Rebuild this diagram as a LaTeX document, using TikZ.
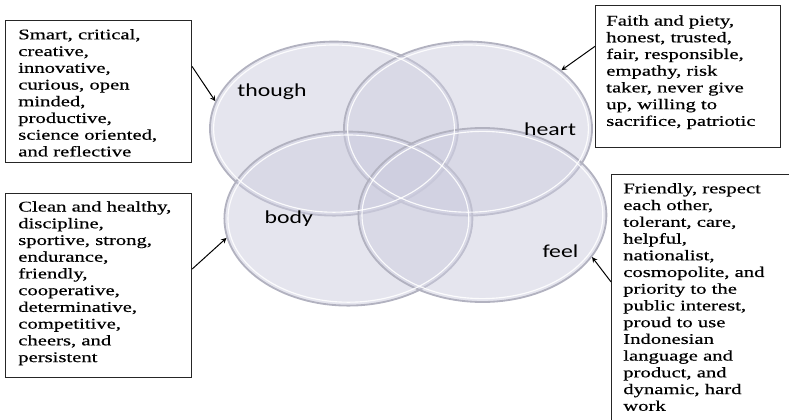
\documentclass[tikz,border=0pt]{standalone}
\usepackage{fontspec}
\setmainfont{Liberation Serif}
\newfontfamily\traitfont{Liberation Serif}[FakeStretch=1.4, FakeBold=0.5]
\newfontfamily\tagfont{Carlito}[FakeStretch=1.3]
\usetikzlibrary{shapes.geometric,positioning}

\definecolor{vennfill}{RGB}{204,204,222}
\definecolor{vennrim}{RGB}{178,178,192}

\tikzstyle{venn} = [ellipse, minimum width=6.2cm, minimum height=4.35cm, inner sep=0pt, draw=vennrim, line width=1.3pt, fill=vennfill, fill opacity=0.5]
\tikzstyle{gloss} = [draw=white, line width=0.8pt, opacity=0.9]
\tikzstyle{tag} = [font=\tagfont\fontsize{13pt}{15pt}\selectfont, inner sep=0pt]
\tikzstyle{frame} = [rectangle, anchor=north west, draw=black!85, line width=0.8pt]
\tikzstyle{traits} = [align=left, inner sep=0pt, font=\traitfont\fontsize{10.5pt}{11.9pt}\selectfont]
\tikzstyle{arrow} = [->, >=stealth, line width=0.7pt]

\begin{document}
\begin{tikzpicture}[node distance = 3.35cm]
	\useasboundingbox (0,0) rectangle (19.725,10.475);
	\clip (0,0) rectangle (19.725,10.475);
	% Place circles
	\node [venn] (though) at (8.35,7.26) {};
	\node [venn, right of=though] (heart) {};
	\node [venn, below of=though, xshift=0.36cm, yshift=1.1cm] (body) {};
	\node [venn, right of=body, yshift=0.09cm] (feel) {};
	% Highlight rims
	\draw [gloss] (though.center) ellipse [x radius=3.01cm, y radius=2.09cm];
	\draw [gloss] (heart.center) ellipse [x radius=3.01cm, y radius=2.09cm];
	\draw [gloss] (body.center) ellipse [x radius=3.01cm, y radius=2.09cm];
	\draw [gloss] (feel.center) ellipse [x radius=3.01cm, y radius=2.09cm];
	% Circle labels
	\node [tag, xshift=-1.55cm, yshift=0.91cm] (thoughtag) at (though.center) {though};
	\node [tag, xshift=2.05cm, yshift=-0.02cm] (hearttag) at (heart.center) {heart};
	\node [tag, xshift=-1.49cm, yshift=-0.01cm] (bodytag) at (body.center) {body};
	\node [tag, xshift=1.95cm, yshift=-0.9cm] (feeltag) at (feel.center) {feel};
	% Place boxes
	\node [frame, minimum width=4.65cm, minimum height=3.55cm] (thoughbox) at (0.125,9.975) {};
	\node [traits, below right=0.22cm and 0.325cm of thoughbox.north west] (thoughtext) {Smart, critical,\\creative,\\innovative,\\curious, open\\minded,\\productive,\\science oriented,\\and reflective};
	\node [frame, minimum width=4.625cm, minimum height=3.55cm] (heartbox) at (14.875,10.35) {};
	\node [traits, below right=0.25cm and 0.275cm of heartbox.north west] (hearttext) {Faith and piety,\\honest, trusted,\\fair, responsible,\\empathy, risk\\taker, never give\\up, willing to\\sacrifice, patriotic};
	\node [frame, minimum width=4.65cm, minimum height=4.6cm] (bodybox) at (0.125,5.65) {};
	\node [traits, below right=0.2cm and 0.325cm of bodybox.north west] (bodytext) {Clean and healthy,\\discipline,\\sportive, strong,\\endurance,\\friendly,\\cooperative,\\determinative,\\competitive,\\cheers, and\\persistent};
	\node [frame, minimum width=5cm, minimum height=7cm] (feelbox) at (15.275,6.125) {};
	\node [traits, below right=0.22cm and 0.3cm of feelbox.north west] (feeltext) {Friendly, respect\\each other,\\tolerant, care,\\helpful,\\nationalist,\\cosmopolite, and\\priority to the\\public interest,\\proud to use\\Indonesian\\language and\\product, and\\dynamic, hard\\work};
	% Draw arrows
	\draw [arrow] (thoughbox.15.6) -- (though.167);
	\draw [arrow] (heartbox.162.6) -- (heart.32.5);
	\draw [arrow] (bodybox.10.4) -- (body.189);
	\draw [arrow] (feelbox.162.3) -- (feel.339);
\end{tikzpicture}
\end{document}
